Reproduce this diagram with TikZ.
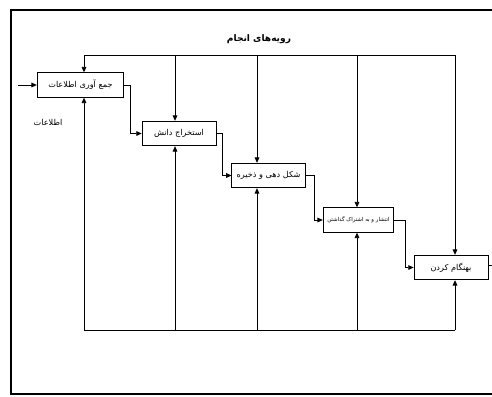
\documentclass[tikz,border=0pt]{standalone}
\usepackage{fontspec}
\newfontfamily\farsi[Script=Arabic]{DejaVu Sans}
\TeXXeTstate=1
\usetikzlibrary{arrows.meta}

\newcommand{\fa}[1]{\beginR #1\endR}
\tikzset{
	stage/.style={draw, fill=white, minimum height=18.5pt, inner sep=1pt, font=\farsi\fontsize{6.1}{7}\selectfont},
	flow/.style={-{Triangle[length=4pt,width=3.5pt]}},
	note/.style={font=\farsi\fontsize{6.1}{7}\selectfont},
}

\begin{document}
\begin{tikzpicture}[x=0.75pt, y=-0.75pt, line width=0.55pt]
		\useasboundingbox (0,0) rectangle (492,396);
		\draw [line width=1.4pt] (492,10) -- (11,10) -- (11,394) -- (492,394);
		% stages
		\node [stage, minimum width=65pt] (collect) at (80.5,85) {\fa{جمع آوری اطلاعات}};
		\node [stage, minimum width=55.5pt] (extract) at (179,133.5) {\fa{استخراج دانش}};
		\node [stage, minimum width=55pt] (shape) at (268.5,175.5) {\fa{شکل دهی و ذخیره}};
		\node [stage, minimum width=53pt, font=\farsi\fontsize{4.1}{5}\selectfont] (share) at (358.5,220) {\fa{انتشار و به اشتراک گذاشتن}};
		\node [stage, minimum width=55.5pt] (update) at (451,267.5) {\fa{بهنگام کردن}};
		\node [note, font=\farsi\bfseries\fontsize{6.8}{8}\selectfont] (title) at (259,39) {\fa{رویه‌های انجام}};
		\node [note] (info) at (48,122) {\fa{اطلاعات}};
		% input and output
		\coordinate (in) at (18,85);
		\coordinate (out) at (492,265);
		\draw [flow] (in) -- (collect.west);
		\draw (update.east |- out) -- (out);
		% stage to stage
		\draw [flow] (collect.east) -- ++(6,0) |- (extract.west);
		\draw [flow] (extract.east) -- ++(6,0) |- (shape.west);
		\draw [flow] (shape.east) -- ++(9,0) |- (share.west);
		\draw [flow] (share.east) -- ++(11,0) |- (update.west);
		% controls from above
		\coordinate (t1) at (84,55);
		\coordinate (t2) at (175,55);
		\coordinate (t3) at (257,55);
		\coordinate (t4) at (357,55);
		\coordinate (t5) at (455,55);
		\draw (t1) -- (t5);
		\draw [flow] (t1) -- (t1 |- collect.north);
		\draw [flow] (t2) -- (t2 |- extract.north);
		\draw [flow] (t3) -- (t3 |- shape.north);
		\draw [flow] (t4) -- (t4 |- share.north);
		\draw [flow] (t5) -- (t5 |- update.north);
		% mechanisms from below
		\coordinate (b1) at (84,330);
		\coordinate (b2) at (175,330);
		\coordinate (b3) at (257,330);
		\coordinate (b4) at (357,330);
		\coordinate (b5) at (455,330);
		\draw (b1) -- (b5);
		\draw [flow] (b1) -- (b1 |- collect.south);
		\draw [flow] (b2) -- (b2 |- extract.south);
		\draw [flow] (b3) -- (b3 |- shape.south);
		\draw [flow] (b4) -- (b4 |- share.south);
		\draw [flow] (b5) -- (b5 |- update.south);
	\end{tikzpicture}
\end{document}
